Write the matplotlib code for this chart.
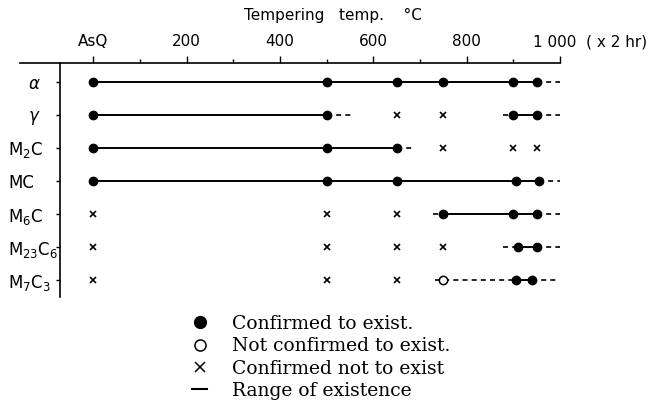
import matplotlib
matplotlib.use("Agg")
import matplotlib.pyplot as plt
from matplotlib.lines import Line2D
from matplotlib.transforms import ScaledTranslation

# phases (rows, top to bottom)
phases = [r'$\alpha$', r'$\gamma$', r'M$_2$C', 'MC', r'M$_6$C', r'M$_{23}$C$_6$', r'M$_7$C$_3$']

# tempering temperature, AsQ = 0
tick_temps = [0, 200, 400, 600, 800, 1000]
tick_names = ['AsQ', '200', '400', '600', '800', '1 000  ( x 2 hr)']

# observations per phase
confirmed = [
    [0, 500, 650, 750, 900, 950],
    [0, 500, 900, 950],
    [0, 500, 650],
    [0, 500, 650, 905, 955],
    [750, 900, 950],
    [910, 950],
    [905, 940],
]
not_confirmed = [[], [], [], [], [], [], [750]]
absent = [
    [],
    [650, 750],
    [750, 900, 950],
    [],
    [0, 500, 650],
    [0, 500, 650, 750],
    [0, 500, 650],
]
# range of existence (solid) and uncertain extension (dashed)
solid = [
    [(0, 950)],
    [(0, 500), (900, 950)],
    [(0, 650)],
    [(0, 955)],
    [(750, 950)],
    [(910, 950)],
    [(905, 940)],
]
dashed = [
    [(950, 1000)],
    [(500, 555), (878, 900), (950, 1000)],
    [(650, 685)],
    [(955, 1000)],
    [(728, 750), (950, 1000)],
    [(878, 910), (950, 1000)],
    [(732, 905), (940, 993)],
]

fig = plt.figure(figsize=(6.5, 4.08), dpi=100)
ax = fig.add_axes([60 / 650, 1 - 297 / 408, 500 / 650, (297 - 63) / 408])

for i in range(len(phases)):
    for a, b in solid[i]:
        ax.plot([a, b], [i, i], color='k', lw=1.4, solid_capstyle='butt', zorder=2)
    for a, b in dashed[i]:
        ax.plot([a, b], [i, i], color='k', lw=1.2, ls=(0, (3, 2.5)), zorder=2)
    ax.plot(confirmed[i], [i] * len(confirmed[i]), 'o', color='k', ms=6, zorder=3)
    ax.plot(not_confirmed[i], [i] * len(not_confirmed[i]), 'o', mfc='white', mec='k',
            mew=1.1, ms=6, zorder=3)
    ax.plot(absent[i], [i] * len(absent[i]), 'x', color='k', ms=4.5, mew=1.2, zorder=3)

ax.set_xlim(-71, 1000)
ax.set_ylim(6.5, -0.56)

for s in ['right', 'bottom']:
    ax.spines[s].set_visible(False)
ax.spines['top'].set_bounds(-157, 1000)
ax.spines['top'].set_linewidth(1.2)
ax.spines['left'].set_linewidth(1.2)

ax.xaxis.tick_top()
ax.set_xticks(tick_temps)
ax.set_xticklabels(tick_names, fontsize=11)
ax.set_xticks(range(100, 1000, 200), minor=True)
ax.tick_params(axis='x', which='major', direction='out', length=5, width=1, pad=5)
ax.tick_params(axis='x', which='minor', direction='out', length=3, width=1)

# last tick label carries the time, starts just left of its tick
last = ax.get_xticklabels()[-1]
last.set_horizontalalignment('left')
last.set_transform(last.get_transform() + ScaledTranslation(-0.27, 0, fig.dpi_scale_trans))

ax.set_yticks(range(len(phases)))
ax.set_yticklabels(phases, fontsize=12)
ax.tick_params(axis='y', direction='out', length=3, width=1, pad=34.4)
for lab in ax.get_yticklabels():
    lab.set_horizontalalignment('left')

# greek labels sit further right
for lab in ax.get_yticklabels()[:2]:
    lab.set_transform(lab.get_transform() + ScaledTranslation(0.2, 0, fig.dpi_scale_trans))

fig.text(333 / 650, 1 - 15 / 408, 'Tempering   temp.    °C', ha='center', va='center',
         fontsize=11)

handles = [
    Line2D([], [], marker='o', color='k', ls='none', ms=8.5),
    Line2D([], [], marker='o', mfc='white', mec='k', mew=1.1, ls='none', ms=8),
    Line2D([], [], marker='x', color='k', ls='none', ms=6.5, mew=1.1),
    Line2D([], [], color='k', lw=1.5),
]
labels = ['Confirmed to exist.', 'Not confirmed to exist.',
          'Confirmed not to exist', 'Range of existence']
fig.legend(handles, labels, loc='upper left', bbox_to_anchor=(192 / 650, 1 - 315 / 408),
           frameon=False, prop={'family': 'DejaVu Serif', 'size': 13.5},
           handlelength=0.8, handletextpad=1.35, labelspacing=0.23, borderpad=0,
           borderaxespad=0)

fig.savefig('out.png', dpi=100)
